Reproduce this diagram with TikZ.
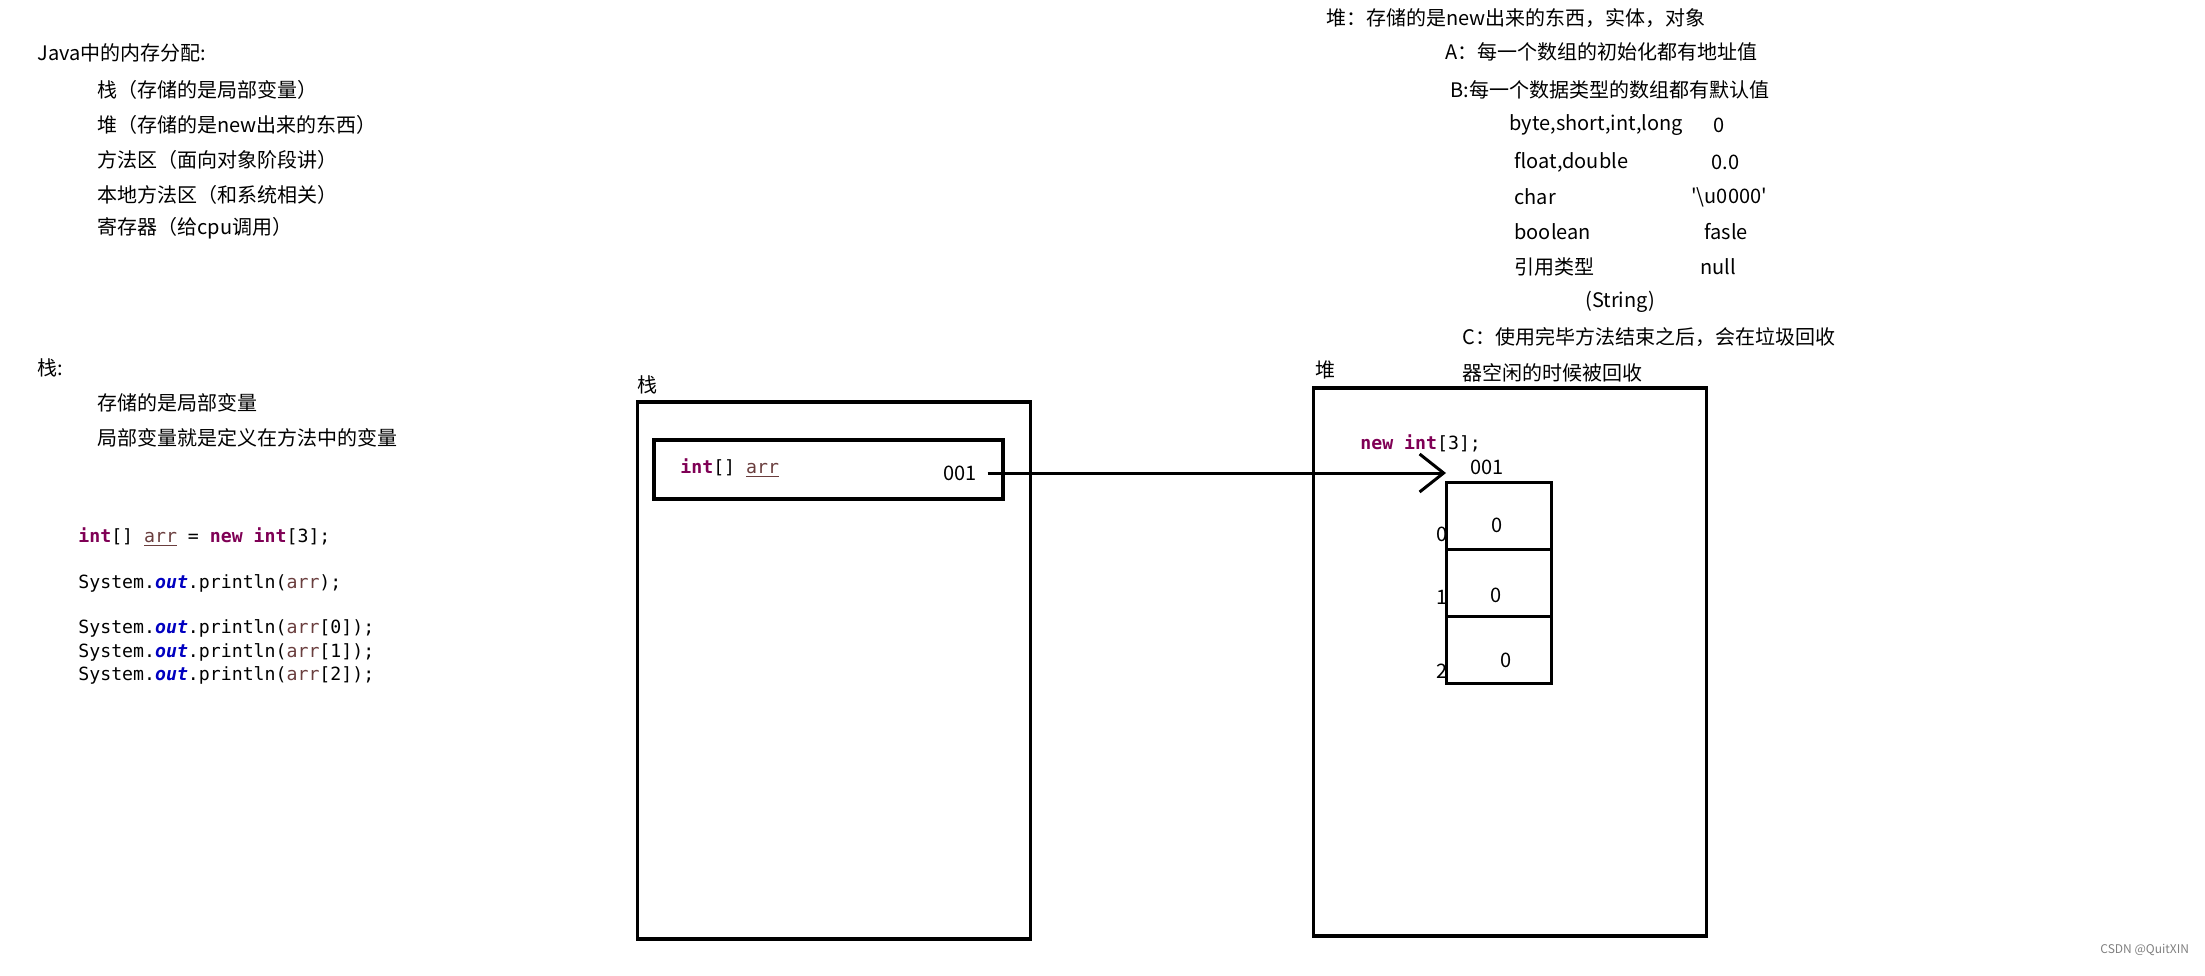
\documentclass[tikz,border=0pt]{standalone}
\usepackage{fontspec}
\setmainfont{Noto Sans CJK SC}
\setmonofont{DejaVu Sans Mono}
\usetikzlibrary{positioning,arrows.meta}
\definecolor{kwcolor}{HTML}{7F0055}
\definecolor{fieldcolor}{HTML}{0000C0}
\definecolor{varcolor}{HTML}{6A3E3E}
\newcommand{\kw}[1]{\textcolor{kwcolor}{\textbf{#1}}}
\newcommand{\fld}[1]{\textcolor{fieldcolor}{\textbf{\textit{#1}}}}
\newcommand{\lv}[1]{\textcolor{varcolor}{\underline{#1}}}
\newcommand{\rv}[1]{\textcolor{varcolor}{#1}}

\begin{document}
\begin{tikzpicture}[x=0.5pt,y=-0.5pt,
  note/.style={anchor=west,inner sep=0pt},
  src/.style={anchor=west,inner sep=0pt,font=\fontsize{9.1}{11}\ttfamily},
  region/.style={draw,line width=1.6pt,minimum width=196.5pt},
  slot/.style={draw,line width=1.6pt,minimum width=174.5pt,minimum height=29.5pt},
  cell/.style={draw,line width=1.5pt,outer sep=0pt,minimum width=52.5pt,minimum height=33.5pt},
  ptr/.style={line width=1.5pt,-{Straight Barb[length=12pt,width=19pt]}},
  every node/.append style={font=\fontsize{10}{12}\selectfont}
]
  \useasboundingbox (0,0) rectangle (2205,975);
  % overview
  \node[note] (memtitle) at (37,53) {Java中的内存分配:};
  \node[note] (memstack) at (97,90) {栈（存储的是局部变量）};
  \node[note] (memheap) at (97,125) {堆（存储的是new出来的东西）};
  \node[note] (memmethod) at (97,160) {方法区（面向对象阶段讲）};
  \node[note] (memnative) at (97,195) {本地方法区（和系统相关）};
  \node[note] (memreg) at (97,228) {寄存器（给cpu调用）};
  % stack notes
  \node[note] (stacktitle) at (37,368) {栈:};
  \node[note] (stackline1) at (97,403) {存储的是局部变量};
  \node[note] (stackline2) at (97,438) {局部变量就是定义在方法中的变量};
  % code
  \node[src] (decl) at (78,537) {\kw{int}[] \lv{arr} = \kw{new} \kw{int}[3];};
  \node[src] (print) at (78,583) {System.\fld{out}.println(\rv{arr});};
  \node[src] (print0) at (78,628) {System.\fld{out}.println(\rv{arr}[0]);};
  \node[src] (print1) at (78,652) {System.\fld{out}.println(\rv{arr}[1]);};
  \node[src] (print2) at (78,675) {System.\fld{out}.println(\rv{arr}[2]);};
  % heap notes
  \node[note] (heaptitle) at (1326,18) {堆：存储的是new出来的东西，实体，对象};
  \node[note] (heapa) at (1445,52) {A：每一个数组的初始化都有地址值};
  \node[note] (heapb) at (1450,90) {B:每一个数据类型的数组都有默认值};
  \node[note] (tint) at (1509,125) {byte,short,int,long};
  \node[note] (vint) at (1713,125) {0};
  \node[note] (tfloat) at (1514,162) {float,double};
  \node[note] (vfloat) at (1711,162) {0.0};
  \node[note] (tchar) at (1514,197) {char};
  \node[note] (vchar) at (1691,197) {\textquotesingle\textbackslash u0000\textquotesingle};
  \node[note] (tbool) at (1514,232) {boolean};
  \node[note] (vbool) at (1704,232) {fasle};
  \node[note] (tref) at (1514,267) {引用类型};
  \node[note] (vref) at (1700,267) {null};
  \node[note] (tstr) at (1585,302) {(String)};
  \node[note] (heapc1) at (1462,337) {C：使用完毕方法结束之后，会在垃圾回收};
  \node[note] (heapc2) at (1462,373) {器空闲的时候被回收};
  % stack frame
  \node[region,minimum height=268.5pt] (stack) at (834,670.5) {};
  \node[note] (stacklabel) at (637,385) {栈};
  \node[slot] (arrslot) at (828.5,469.5) {};
  \node[src] (arrvar) at (680,468) {\kw{int}[] \lv{arr}};
  \node (addr) at (960,473) {001};
  % heap area
  \node[region,minimum height=274pt] (heap) at (1510,662) {};
  \node[note] (heaplabel) at (1315,370) {堆};
  \node[src] (newexpr) at (1360,443) {\kw{new} \kw{int}[3];};
  \node (heapaddr) at (1487,467) {001};
  \node[cell] (cell0) at (1498.5,515.5) {};
  \node[cell,below=0pt of cell0] (cell1) {};
  \node[cell,below=0pt of cell1] (cell2) {};
  \node (val0) at (1497,525) {0};
  \node (val1) at (1496,595) {0};
  \node (val2) at (1506,660) {0};
  \node[note] (idx0) at (1436,534) {0};
  \node[note] (idx1) at (1436,597) {1};
  \node[note] (idx2) at (1436,671) {2};
  \draw[ptr] ([xshift=2pt]addr.east) -- (addr.east -| cell0.north west);
  \node[note,text=gray,font=\fontsize{6}{8}\selectfont] (mark) at (2100,950) {CSDN @QuitXIN};
\end{tikzpicture}
\end{document}
